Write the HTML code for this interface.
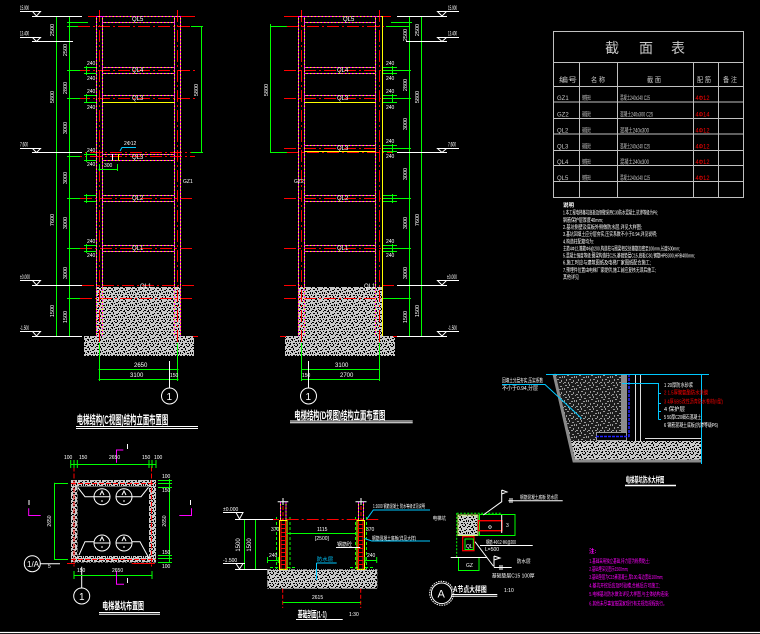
<!DOCTYPE html>
<html><head><meta charset="utf-8"><style>
html,body{margin:0;padding:0;background:#000;}
svg{display:block}
text{font-family:"Liberation Sans","Noto Sans CJK SC",sans-serif;}
</style></head><body>
<svg width="760" height="634" viewBox="0 0 760 634" xmlns="http://www.w3.org/2000/svg">
<defs>
<pattern id="g1" width="12" height="12" patternUnits="userSpaceOnUse">
<rect width="12" height="12" fill="#c8c8c8"/>
<g fill="#000">
<rect x="1" y="1" width="2" height="1"/><rect x="5" y="0" width="1" height="2"/><rect x="8" y="2" width="2" height="1"/><rect x="0" y="4" width="1" height="2"/><rect x="3" y="3" width="2" height="1"/><rect x="4" y="4" width="1" height="1"/><rect x="7" y="5" width="2" height="1"/><rect x="10" y="4" width="1" height="2"/><rect x="2" y="7" width="1" height="2"/><rect x="5" y="7" width="2" height="1"/><rect x="9" y="8" width="1" height="2"/><rect x="0" y="10" width="2" height="1"/><rect x="4" y="10" width="1" height="2"/><rect x="7" y="10" width="2" height="1"/><rect x="11" y="11" width="1" height="1"/><rect x="6" y="3" width="1" height="1"/><rect x="11" y="7" width="1" height="1"/><rect x="3" y="11" width="1" height="1"/><rect x="2" y="5" width="1" height="1"/><rect x="8" y="7" width="1" height="1"/><rect x="6" y="9" width="1" height="1"/><rect x="10" y="1" width="1" height="1"/><rect x="1" y="8" width="1" height="1"/>
</g></pattern>
<pattern id="g2" width="12" height="12" patternUnits="userSpaceOnUse">
<rect width="12" height="12" fill="#1c1c1c"/>
<g fill="#9a9a9a">
<rect x="1" y="1" width="2" height="1"/><rect x="5" y="0" width="1" height="2"/><rect x="8" y="2" width="2" height="1"/><rect x="0" y="4" width="1" height="2"/><rect x="3" y="3" width="2" height="1"/><rect x="7" y="5" width="2" height="1"/><rect x="10" y="4" width="1" height="2"/><rect x="2" y="7" width="1" height="2"/><rect x="5" y="7" width="2" height="1"/><rect x="9" y="8" width="1" height="2"/><rect x="0" y="10" width="2" height="1"/><rect x="4" y="10" width="1" height="2"/><rect x="7" y="10" width="2" height="1"/><rect x="11" y="11" width="1" height="1"/>
</g></pattern>
<path id="m1" fill="none" d="M96.5 16V336M102.5 16V336M174.5 16V336M180.5 16V336M96.5 16.5H180.5M102.5 22.5H174.5M102.5 67.5H174.5M102.5 73.5H174.5M102.5 95.5H174.5M102.5 102.5H174.5M102.5 154.5H174.5M102.5 160.5H174.5M102.5 195.5H174.5M102.5 201.5H174.5M102.5 245.5H174.5M102.5 251.5H174.5"/>
<path id="m2" fill="none" d="M298.5 16V336M304.5 16V336M375.5 16V336M382.5 16V336M298.5 16.5H382.5M304.5 22.5H375.5M304.5 67.5H375.5M304.5 73.5H375.5M304.5 95.5H375.5M304.5 102.5H375.5M304.5 145.5H375.5M304.5 151.5H375.5M304.5 195.5H375.5M304.5 201.5H375.5M304.5 245.5H375.5M304.5 251.5H375.5"/>
</defs>
<rect width="760" height="634" fill="#000"/>

<!-- ===== Elevation C ===== -->
<rect x="96" y="287" width="84" height="49" fill="url(#g1)"/>
<rect x="84" y="336" width="110" height="20" fill="url(#g1)"/>
<g stroke="#f00" fill="none" stroke-dasharray="12 3 2 3">
<path d="M99.5 10V342M177.5 10V342M78 26.5H195M78 70.5H195M78 98.5H195M70 152.5H195M70 156.5H195M80 198.5H195M80 248.5H195M82 285.5H195M80 298.5H193"/>
</g>
<path stroke="#f00" d="M88 16.5H96M180 16.5H195M193 336.5H198M99.5 11V16M177.5 11V16"/>
<use href="#m1" stroke="#ff0"/>
<use href="#m1" stroke="#f0f" stroke-dasharray="2 1.5"/>
<path stroke="#ff0" d="M102.5 102.5H174.5"/>
<g stroke="#0f0" fill="none">
<path d="M56.5 16V336M69.5 16V336M67 22.5H88M67 26.5H78M67 70.5H80M67 98.5H80M67 156.5H80M67 198.5H80M67 248.5H80M67 298.5H80M201.5 26V152.5M191 26.5H203M191 152.5H203"/>
<path d="M86.5 66V75M86.5 94V103M86.5 152V162M86.5 194V203M86.5 244V253M84 67.5H96M84 73.5H96M84 95.5H96M84 102.5H96M84 154.5H96M84 160.5H96M84 195.5H96M84 201.5H96M84 245.5H96M84 251.5H96"/>
<path d="M98.5 369.5H178.5M98.5 379.5H178.5M99.5 343V381M177.5 343V381M98.5 169.5H117.5M99.5 164V171M117.5 164V171"/>
</g>
<g stroke="#fff" fill="none">
<path d="M32 16.5H82M20 11.5H41M32 41.5H73M20 37.5H41M32 152.5H82M20 148.5H41M32 285.5H82M20 280.5H41M32 336.5H82M20 331.5H41"/>
<path d="M32.5 11.5H40.5L36.5 16ZM32.5 37.5H40.5L36.5 41.5ZM32.5 148.5H40.5L36.5 152.5ZM32.5 280.5H40.5L36.5 285ZM32.5 331.5H40.5L36.5 336Z"/>
<path d="M169.5 361V388M112.5 154V160"/>
<circle cx="169.5" cy="396" r="8"/>
</g>
<path stroke="#ff0" d="M118.5 154V160"/>
<path stroke="#00c8ff" fill="none" d="M120 151L122 147.5H136"/>
<g fill="#fff" font-size="6">
<text x="20" y="10" textLength="9" lengthAdjust="spacingAndGlyphs">15.900</text><text x="20" y="35.5" textLength="9" lengthAdjust="spacingAndGlyphs">13.400</text><text x="20" y="146.5" textLength="8" lengthAdjust="spacingAndGlyphs">7.600</text><text x="20" y="279" textLength="10" lengthAdjust="spacingAndGlyphs">±0.000</text><text x="20" y="330" textLength="9" lengthAdjust="spacingAndGlyphs">-1.500</text>
<text x="132" y="21">QL5</text><text x="132" y="72">QL4</text><text x="132" y="100">QL3</text><text x="132" y="159">QL3</text><text x="132" y="200">QL2</text><text x="132" y="250">QL1</text><text x="140" y="288">QL1</text>
<text x="124" y="145" font-size="5">2Φ12</text><text x="104" y="167" font-size="5">300</text>
<text x="183" y="183" font-size="5">GZ1</text>
<text x="134" y="367">2650</text><text x="130" y="377">3100</text><text x="170" y="377" font-size="5">150</text>
<text x="166.5" y="400" font-size="10">1</text>
<text transform="translate(67,50) rotate(-90)" text-anchor="middle" font-size="5.5">2500</text>
<text transform="translate(67,88) rotate(-90)" text-anchor="middle" font-size="5.5">2800</text>
<text transform="translate(67,128) rotate(-90)" text-anchor="middle" font-size="5.5">3000</text>
<text transform="translate(67,178) rotate(-90)" text-anchor="middle" font-size="5.5">3000</text>
<text transform="translate(67,223) rotate(-90)" text-anchor="middle" font-size="5.5">3000</text>
<text transform="translate(67,273) rotate(-90)" text-anchor="middle" font-size="5.5">3000</text>
<text transform="translate(67,317) rotate(-90)" text-anchor="middle" font-size="5.5">1500</text>
<text transform="translate(54,30) rotate(-90)" text-anchor="middle" font-size="5.5">2500</text>
<text transform="translate(54,97) rotate(-90)" text-anchor="middle" font-size="5.5">5800</text>
<text transform="translate(54,220) rotate(-90)" text-anchor="middle" font-size="5.5">7600</text>
<text transform="translate(54,311) rotate(-90)" text-anchor="middle" font-size="5.5">1500</text>
<text transform="translate(198,90) rotate(-90)" text-anchor="middle" font-size="5.5">5800</text>
<text x="87" y="65" font-size="5">240</text><text x="87" y="80" font-size="5">240</text><text x="87" y="93" font-size="5">240</text><text x="87" y="109" font-size="5">240</text><text x="87" y="152" font-size="5">240</text><text x="87" y="166" font-size="5">240</text><text x="87" y="243" font-size="5">240</text><text x="87" y="257" font-size="5">240</text>
<text x="76.7" y="424" font-size="12" font-weight="bold" textLength="91.6" lengthAdjust="spacingAndGlyphs">电梯结构(C视图)结构立面布置图</text>
</g>
<path stroke="#fff" d="M76 426.5H198M76 428.5H198"/>

<!-- ===== Elevation D ===== -->
<rect x="298.5" y="287" width="84" height="49" fill="url(#g1)"/>
<rect x="285" y="336" width="110" height="20" fill="url(#g1)"/>
<g stroke="#f00" fill="none" stroke-dasharray="12 3 2 3">
<path d="M301.5 10V342M379.5 10V342M287 26.5H400M284 70.5H400M284 98.5H400M284 148.5H398M287 152.5H393M284 198.5H400M284 248.5H398M284 285.5H300M382 285.5H397M284 298.5H398"/>
</g>
<path stroke="#f00" d="M284 16.5H298M383 16.5H391M280 336.5H286M393 336.5H397M301.5 11V16M379.5 11V16"/>
<use href="#m2" stroke="#ff0"/>
<use href="#m2" stroke="#f0f" stroke-dasharray="2 1.5"/>
<path stroke="#ff0" d="M304.5 102.5H375.5M304.5 151.5H375.5M382.5 16V336"/>
<g stroke="#0f0" fill="none">
<path d="M270.5 24V152.5M270 26.5H287M270 152.5H287M409.5 16V336M421.5 16V336M391 22.5H412M386 26.5H410M383 70.5H411M383 98.5H411M383 148.5H411M383 198.5H411M383 248.5H411M383 298.5H411"/>
<path d="M392.5 66V75M392.5 94V103M392.5 144V153M392.5 194V203M392.5 244V253M383 67.5H397M383 73.5H397M383 95.5H397M383 102.5H397M383 145.5H397M383 151.5H397M383 195.5H397M383 201.5H397M383 245.5H397M383 251.5H397"/>
<path d="M301 369.5H380M301 379.5H380M301.5 343V381M379.5 343V381"/>
</g>
<g stroke="#fff" fill="none">
<path d="M397 16.5H447M438 11.5H459M406 41.5H447M437 37.5H459M397 152.5H447M437 148.5H459M397 285.5H447M437 280.5H459M397 336.5H447M437 331.5H459"/>
<path d="M437.5 11.5H446.5L442 16ZM437.5 37.5H446.5L442 41.5ZM437.5 148.5H446.5L442 152.5ZM437.5 280.5H446.5L442 285ZM437.5 331.5H446.5L442 336Z"/>
<path d="M308.5 361V388"/>
<circle cx="308.5" cy="396" r="8"/>
</g>
<g fill="#fff" font-size="6">
<text x="448" y="10" textLength="9" lengthAdjust="spacingAndGlyphs">15.900</text><text x="448" y="35.5" textLength="9" lengthAdjust="spacingAndGlyphs">13.400</text><text x="448" y="146.5" textLength="8" lengthAdjust="spacingAndGlyphs">7.600</text><text x="447" y="279" textLength="10" lengthAdjust="spacingAndGlyphs">±0.000</text><text x="448" y="330" textLength="9" lengthAdjust="spacingAndGlyphs">-1.500</text>
<text x="343" y="21">QL5</text><text x="337" y="72">QL4</text><text x="337" y="100">QL3</text><text x="337" y="150">QL3</text><text x="337" y="200">QL2</text><text x="337" y="250">QL1</text><text x="364" y="288">QL1</text>
<text x="294" y="183" font-size="5">GZ2</text>
<text x="335" y="367">3100</text><text x="340" y="377">2700</text><text x="302" y="377" font-size="5">150</text>
<text x="305.5" y="400" font-size="10">1</text>
<text transform="translate(407,35) rotate(-90)" text-anchor="middle" font-size="5.5">2500</text>
<text transform="translate(407,85) rotate(-90)" text-anchor="middle" font-size="5.5">2800</text>
<text transform="translate(407,124) rotate(-90)" text-anchor="middle" font-size="5.5">3000</text>
<text transform="translate(407,174) rotate(-90)" text-anchor="middle" font-size="5.5">3000</text>
<text transform="translate(407,223) rotate(-90)" text-anchor="middle" font-size="5.5">3000</text>
<text transform="translate(407,273) rotate(-90)" text-anchor="middle" font-size="5.5">3000</text>
<text transform="translate(407,317) rotate(-90)" text-anchor="middle" font-size="5.5">1500</text>
<text transform="translate(419,30) rotate(-90)" text-anchor="middle" font-size="5.5">2500</text>
<text transform="translate(419,97) rotate(-90)" text-anchor="middle" font-size="5.5">5800</text>
<text transform="translate(419,220) rotate(-90)" text-anchor="middle" font-size="5.5">7600</text>
<text transform="translate(419,311) rotate(-90)" text-anchor="middle" font-size="5.5">1500</text>
<text transform="translate(268,90) rotate(-90)" text-anchor="middle" font-size="5.5">5800</text>
<text x="386" y="65" font-size="5">240</text><text x="386" y="80" font-size="5">240</text><text x="386" y="93" font-size="5">240</text><text x="386" y="109" font-size="5">240</text><text x="386" y="143" font-size="5">240</text><text x="386" y="158" font-size="5">240</text><text x="386" y="243" font-size="5">240</text><text x="386" y="257" font-size="5">240</text>
<text x="294.3" y="418.8" font-size="11" font-weight="bold" textLength="91" lengthAdjust="spacingAndGlyphs">电梯结构(D视图)结构立面布置图</text>
</g>
<path stroke="#fff" d="M290 421H412.7M290 422.8H412.7"/>

<!-- ===== Table ===== -->
<g stroke="#c0c0c0" fill="none">
<rect x="553.5" y="31.5" width="190" height="166"/>
<path d="M553.5 62.5H743.5M553.5 86.5H743.5M553.5 102H743.5M553.5 118.5H743.5M553.5 134H743.5M553.5 150.5H743.5M553.5 165.5H743.5M553.5 181.5H743.5M579.5 62.5V197.5M617.5 62.5V197.5M693.5 62.5V197.5M718.5 62.5V197.5"/>
</g>
<g fill="#c8c8c8">
<text x="605" y="53" font-size="14">截</text><text x="639" y="53" font-size="14">面</text><text x="671" y="53" font-size="14">表</text>
<text x="559" y="82" font-size="7" textLength="18" lengthAdjust="spacingAndGlyphs">编号</text>
<text x="591" y="82" font-size="7" textLength="14" lengthAdjust="spacingAndGlyphs">名 称</text>
<text x="647" y="82" font-size="7" textLength="14" lengthAdjust="spacingAndGlyphs">截 面</text>
<text x="697" y="82" font-size="7" textLength="14" lengthAdjust="spacingAndGlyphs">配 筋</text>
<text x="723" y="82" font-size="7" textLength="14" lengthAdjust="spacingAndGlyphs">备 注</text>
</g>
<g fill="#c8c8c8" font-size="6">
<text x="557" y="100">GZ1</text><text x="557" y="116.5">GZ2</text><text x="557" y="132.5">QL2</text><text x="557" y="148.5">QL3</text><text x="557" y="164">QL4</text><text x="557" y="180">QL5</text>
<text x="582" y="100" textLength="9" lengthAdjust="spacingAndGlyphs">钢筋砼</text><text x="582" y="116.5" textLength="9" lengthAdjust="spacingAndGlyphs">钢筋砼</text><text x="582" y="132.5" textLength="9" lengthAdjust="spacingAndGlyphs">钢筋砼</text><text x="582" y="148.5" textLength="9" lengthAdjust="spacingAndGlyphs">钢筋砼</text><text x="582" y="164" textLength="9" lengthAdjust="spacingAndGlyphs">钢筋砼</text><text x="582" y="180" textLength="9" lengthAdjust="spacingAndGlyphs">钢筋砼</text>
<text x="620" y="100" textLength="30" lengthAdjust="spacingAndGlyphs">混凝土240x240 C25</text>
<text x="620" y="116.5" textLength="33" lengthAdjust="spacingAndGlyphs">混凝土240x300 C25</text>
<text x="620" y="132.5" textLength="29" lengthAdjust="spacingAndGlyphs">混凝土240x300</text>
<text x="620" y="148.5" textLength="30" lengthAdjust="spacingAndGlyphs">混凝土240x240 C25</text>
<text x="620" y="164" textLength="29" lengthAdjust="spacingAndGlyphs">混凝土240x300</text>
<text x="620" y="180" textLength="30" lengthAdjust="spacingAndGlyphs">混凝土240x240 C25</text>
</g>
<g fill="#f00" font-size="6">
<text x="695.5" y="100" textLength="14" lengthAdjust="spacingAndGlyphs">4Φ12</text><text x="695.5" y="116.5" textLength="14" lengthAdjust="spacingAndGlyphs">4Φ14</text><text x="695.5" y="132.5" textLength="14" lengthAdjust="spacingAndGlyphs">4Φ12</text><text x="695.5" y="148.5" textLength="14" lengthAdjust="spacingAndGlyphs">4Φ12</text><text x="695.5" y="164" textLength="14" lengthAdjust="spacingAndGlyphs">4Φ12</text><text x="695.5" y="180" textLength="14" lengthAdjust="spacingAndGlyphs">4Φ12</text>
</g>

<!-- notes -->
<g fill="#fff" font-size="5.5">
<text x="563" y="207" font-weight="bold">说明</text>
<text x="563" y="214.5" textLength="95" lengthAdjust="spacingAndGlyphs">1.本工程电梯基坑底板及侧壁采用C30防水混凝土,抗渗等级为P6;</text>
<text x="563" y="222" textLength="40" lengthAdjust="spacingAndGlyphs">钢筋保护层厚度40mm;</text>
<text x="563" y="229" textLength="79" lengthAdjust="spacingAndGlyphs">2.基坑侧壁及底板外侧做防水层,详见大样图;</text>
<text x="563" y="236" textLength="94" lengthAdjust="spacingAndGlyphs">3.基坑回填土应分层夯实,压实系数不小于0.94,详见说明;</text>
<text x="563" y="243.5" textLength="31" lengthAdjust="spacingAndGlyphs">4.构造柱配筋均为:</text>
<text x="563" y="250.5" textLength="117" lengthAdjust="spacingAndGlyphs">主筋4Φ12,箍筋Φ6@200,构造柱与圈梁相交处箍筋加密至100mm,长度500mm;</text>
<text x="563" y="257.5" textLength="132" lengthAdjust="spacingAndGlyphs">5.混凝土强度等级:圈梁构造柱C25,基础垫层C15,底板C30,钢筋HPB300,HRB400mm;</text>
<text x="563" y="264.5" textLength="88" lengthAdjust="spacingAndGlyphs">6.施工时应与建筑图纸及电梯厂家图纸配合施工;</text>
<text x="563" y="272" textLength="93" lengthAdjust="spacingAndGlyphs">7.预埋件位置由电梯厂家提供,施工前应复核无误后施工;</text>
<text x="563" y="279" textLength="16" lengthAdjust="spacingAndGlyphs">其他详见</text>
</g>

<!-- ===== Waterproof detail ===== -->
<polygon points="553,374 621,374 621,432 596,432 596,441 569,441" fill="url(#g2)"/>
<polygon points="570,441 702,441 702,461 574,461" fill="url(#g1)"/>
<path d="M554 374L574 461H702" stroke="#8a8a8a" stroke-width="3" fill="none"/>
<rect x="621" y="374" width="6" height="58" fill="#8c8c8c"/>
<rect x="596.5" y="432.5" width="30" height="8" fill="none" stroke="#999"/>
<path d="M629 374V437M596 436.5H629" stroke="#22f" stroke-width="1.5" stroke-dasharray="3 1" fill="none"/>
<path d="M635.5 374V441M640.5 374V441M645 438.5H702" stroke="#ddd" fill="none"/>
<path d="M546 374.5H709M701.5 374V464M622 383.5H658.5V419.5M658.5 393.5H661M658.5 403.5H661M658.5 411.5H661M658.5 419.5H661M502 384.5H545L581.7 418.5" stroke="#00c8ff" fill="none"/>
<g font-size="5.5">
<text x="664" y="387" fill="#fff" textLength="29" lengthAdjust="spacingAndGlyphs">1 20厚防水砂浆</text>
<text x="664" y="394.5" fill="#f00" textLength="44" lengthAdjust="spacingAndGlyphs">2 1.5厚聚氨酯防水涂膜</text>
<text x="664" y="403.5" fill="#f00" textLength="59" lengthAdjust="spacingAndGlyphs">3 4厚SBS改性沥青防水卷材(II型)</text>
<text x="664" y="411" fill="#fff" textLength="21" lengthAdjust="spacingAndGlyphs">4 保护层</text>
<text x="664" y="419" fill="#fff" textLength="37" lengthAdjust="spacingAndGlyphs">5 50厚C20细石混凝土</text>
<text x="664" y="427" fill="#fff" textLength="54" lengthAdjust="spacingAndGlyphs">6 钢筋混凝土底板(抗渗等级P6)</text>
<text x="502" y="382.5" fill="#fff" textLength="41" lengthAdjust="spacingAndGlyphs">回填土分层夯实,压实系数</text>
<text x="502" y="390" fill="#fff" textLength="36" lengthAdjust="spacingAndGlyphs">不小于0.94,分层</text>
<text x="625.7" y="482.5" fill="#fff" font-size="8" font-weight="bold" textLength="38.6" lengthAdjust="spacingAndGlyphs">电梯基坑防水大样图</text>
</g>
<path d="M625 485.5H676" stroke="#fff" stroke-width="1.6"/>

<!-- ===== Plan ===== -->
<rect x="71" y="480" width="85" height="82.5" fill="url(#g1)"/>
<rect x="77.5" y="486.5" width="71.5" height="69.5" fill="#000"/>
<path d="M74 466.5V566.5M151.5 466.5V566.5M71 483.5H156M71 559.5H156" stroke="#f00" stroke-dasharray="5 2" fill="none"/>
<path d="M67 563.5H75M131.7 563.5H155" stroke="#f00"/>
<g stroke="#fff" fill="none">
<circle cx="102" cy="496.7" r="8"/><circle cx="124" cy="496.7" r="8"/><circle cx="102" cy="543" r="8"/><circle cx="124" cy="543" r="8"/>
<path d="M94 496.7H110M116 496.7H132M94 543H110M116 543H132"/>
<path d="M100 495L102 491L104 495M122 495L124 491L126 495M100 541L102 537L104 541M122 541L124 537L126 541M101 501H103M123 501H125M101 547H103M123 547H125"/>
<path d="M77.7 487.3L85 496.7H94M132 496.7H141L148.5 487.3M79 555L85 541.7H94M131.7 541.7H140L149 558.3"/>
<circle cx="32.3" cy="563.7" r="8"/><path d="M40.3 563.7H60M81.7 566.7V588M127.5 444V449M127.5 578V583M29 500V505M190.5 500V505"/>
<circle cx="81.7" cy="596" r="8"/>
</g>
<g stroke="#0f0" fill="none">
<path d="M70.7 464.5H156M70.7 460V468M74 460V468M77.3 460V468M149 460V468M152 460V468M156 460V468"/>
<path d="M54.5 482.7V560M54 483.5H68M54 559.5H68M169.5 479V563M158 480.5H172M158 483.5H172M158 487.5H172M158 555.5H172M158 558.5H172M158 562.5H172"/>
<path d="M74 575.5H152M74 571V579M152 571V579"/>
</g>
<g stroke="#f0f" fill="none">
<path d="M116.5 462.7V450H123.3M116.5 571V584.3H124M28.7 508.3V515.5H40.7M191.5 508.3V515.5H179.3"/>
</g>
<g fill="#fff" font-size="5">
<text x="64" y="459">100</text><text x="79" y="459">150</text><text x="109" y="459">2650</text><text x="142" y="459">150</text><text x="154" y="459">100</text>
<text x="77" y="572">150</text><text x="112" y="572">2650</text><text x="48" y="568">5</text>
<text x="162" y="478">100</text><text x="162" y="492">150</text><text x="162" y="554">150</text><text x="162" y="568">100</text>
<text transform="translate(51,521) rotate(-90)" text-anchor="middle">2650</text>
<text transform="translate(166,521) rotate(-90)" text-anchor="middle">2650</text>
<text x="27" y="567" font-size="8">1/A</text>
<text x="79" y="600" font-size="10">1</text>
<text x="102.3" y="609.5" font-size="10" font-weight="bold" textLength="41.7" lengthAdjust="spacingAndGlyphs">电梯基坑布置图</text>
</g>
<path d="M99 612.5H160M99 614.3H160" stroke="#fff"/>

<!-- ===== Section 1-1 ===== -->
<rect x="267.3" y="569.3" width="110" height="19.4" fill="url(#g1)"/>
<g stroke="#0f0" stroke-dasharray="3 2" fill="none">
<path d="M276.5 517V569M290 517V569M355.5 517V569M366.5 517V569M270 567.5H279M287 567.5H296M350 567.5H358M365 567.5H374"/>
</g>
<path d="M266.7 519.5H378.3" stroke="#f00" stroke-dasharray="12 3 2 3"/>
<g fill="none">
<rect x="279.5" y="520.5" width="7.5" height="48.8" stroke="#ff0"/>
<rect x="357" y="520.5" width="7.5" height="48.8" stroke="#ff0"/>
<path stroke="#f00" d="M281 521V569M285.5 521V569M358.5 521V569M363 521V569M281 524.5H285.5M281 528.5H285.5M281 532.5H285.5M281 536.5H285.5M281 540.5H285.5M281 544.5H285.5M281 548.5H285.5M281 552.5H285.5M281 556.5H285.5M281 560.5H285.5M281 564.5H285.5M358.5 524.5H363M358.5 528.5H363M358.5 532.5H363M358.5 536.5H363M358.5 540.5H363M358.5 544.5H363M358.5 548.5H363M358.5 552.5H363M358.5 556.5H363M358.5 560.5H363M358.5 564.5H363"/>
<path stroke="#ff0" d="M280.5 502V520M286 502V520M358.5 502V520M363.5 502V520"/>
<path stroke="#f0f" stroke-dasharray="2 1.5" d="M280.5 502V520M286 502V520M358.5 502V520M363.5 502V520"/>
<path stroke="#f00" stroke-dasharray="4 2" d="M283 500V520M361 500V520M282.7 588.7V608M360.7 588.7V608"/>
<path stroke="#fff" d="M277.7 501.7H288.3M283 498V505M355.5 501.7H366.5M361 498V505"/>
<path stroke="#0f0" d="M286.7 533.5H357M282.7 602.5H360.7M244.5 519.5V569.3M255.5 520V569.3M267.3 560.5H278.3M267.5 557V563M278.3 557V563M365 560.5H376.7M365 557V563M376.7 557V563"/>
<path stroke="#fff" d="M235 519.5H273M223 512.5H243M235 569.5H267.3M223 563.5H245M236 512.5H243L239.5 519ZM236 563.5H243L239.5 569Z"/>
<path stroke="#fff" d="M336 547.5H360.3"/>
<path stroke="#00c8ff" d="M366.7 519.3L373.3 510H428.3M364 538.3L371.7 541H429.3M316.5 563V580M316.5 563H336.7M420 510H430M420 541H430"/>
</g>
<g fill="#fff" font-size="5">
<text x="223" y="511">±0.000</text><text x="223" y="562">-1.500</text>
<text transform="translate(240,545) rotate(-90)" text-anchor="middle" font-size="6">1500</text>
<text transform="translate(251,545) rotate(-90)" text-anchor="middle" font-size="6">1500</text>
<text x="317" y="531">1115</text><text x="315" y="540">[2500]</text>
<text x="269" y="557">240</text><text x="367" y="557">240</text>
<text x="271" y="531">370</text><text x="366" y="531">370</text>
<text x="337" y="546" textLength="15" lengthAdjust="spacingAndGlyphs">钢筋砼</text>
<text x="316.7" y="561" fill="#00c8ff" textLength="16.6" lengthAdjust="spacingAndGlyphs">防水层</text>
<text x="373" y="508" textLength="52" lengthAdjust="spacingAndGlyphs">1:1600 钢筋混凝土 防水等级详见说明</text>
<text x="372" y="540" textLength="44" lengthAdjust="spacingAndGlyphs">钢筋混凝土底板(详见大样)</text>
<text x="312" y="599">2615</text>
<text x="297.7" y="617.5" font-size="9" font-weight="bold" textLength="29" lengthAdjust="spacingAndGlyphs">基础剖面(1-1)</text>
<text x="349" y="616">1:30</text>
</g>
<path d="M296 619.5H342.7" stroke="#fff"/>

<!-- ===== Detail A ===== -->
<rect x="458.3" y="515" width="19" height="20" fill="url(#g1)"/>
<g fill="none">
<rect x="458" y="515" width="20" height="20.5" stroke="#ccff66"/>
<path stroke="#0f0" stroke-dasharray="2 1.5" d="M456.7 513.3H501.3M456.7 513.3V557.3"/>
<rect x="479.5" y="514.5" width="35.5" height="21" stroke="#0f0"/>
<rect x="478.5" y="520.7" width="23.5" height="10" stroke="#f00" stroke-width="1.4"/>
<rect x="462.7" y="536.7" width="11.3" height="14" stroke="#f00" stroke-width="1.2"/>
<rect x="465" y="539" width="8.3" height="10.5" stroke="#0f0"/>
<rect x="458.5" y="557.5" width="20.5" height="13" stroke="#0f0"/>
<path stroke="#fff" d="M450.7 557.5H486.7M480 545.5H532.7M483.3 515L501.7 501.7V490M501.7 490L507 492L501.7 494M508.3 500.7H562.7M510 498V503M512 498V503M475 541.7L493.3 566M494 556V567.3M494 556L500 558L494 560M494 567.5H511.7M500 565V570M502 565V570M501.7 515V533"/>
<circle cx="441.7" cy="593.3" r="10.3" stroke="#fff"/>
<circle cx="441.7" cy="593.3" r="12" stroke="#fff" stroke-dasharray="1.5 1"/>
</g>
<g fill="#fff" font-size="5">
<text x="520" y="499" textLength="38" lengthAdjust="spacingAndGlyphs">钢筋混凝土底板 防水层</text>
<text x="516.7" y="563" textLength="14" lengthAdjust="spacingAndGlyphs">防水层</text>
<text x="491.7" y="577.5" textLength="43" lengthAdjust="spacingAndGlyphs">基础垫层C15 100厚</text>
<text x="485" y="551">L=500</text>
<text x="486" y="544" textLength="30" lengthAdjust="spacingAndGlyphs">钢筋 4Φ12 Φ6@200</text>
<text x="466" y="548">QL</text><text x="488" y="529">Φ</text><text x="506" y="527">3</text><text x="466" y="567">GZ</text>
<text x="432.7" y="520" textLength="13.3" lengthAdjust="spacingAndGlyphs">电梯坑</text>
<text x="437.5" y="597.5" font-size="11">A</text>
<text x="453.3" y="592" font-size="8" font-weight="bold" textLength="33.4" lengthAdjust="spacingAndGlyphs">A节点大样图</text>
<text x="504" y="592">1:10</text>
</g>
<path d="M452 594.5H497.3M452 596.2H497.3" stroke="#fff"/>

<!-- magenta notes -->
<g fill="#f0f" font-size="5.5">
<text x="589" y="553" font-weight="bold">注:</text>
<text x="589.3" y="563" textLength="60.7" lengthAdjust="spacingAndGlyphs">1.基础采用独立基础,持力层为粉质黏土;</text>
<text x="589.3" y="571" textLength="39" lengthAdjust="spacingAndGlyphs">2.基础埋深见图示1500mm;</text>
<text x="589.3" y="579" textLength="74" lengthAdjust="spacingAndGlyphs">3.基础垫层为C15素混凝土,厚100,每边宽出100mm;</text>
<text x="589.3" y="587.5" textLength="70.7" lengthAdjust="spacingAndGlyphs">4.基坑开挖后应及时验槽,合格后方可施工;</text>
<text x="589.3" y="596" textLength="79.7" lengthAdjust="spacingAndGlyphs">5.电梯基坑防水做法详见大样图,与主体结构连接;</text>
<text x="589.3" y="605.5" textLength="77.4" lengthAdjust="spacingAndGlyphs">6.其他未尽事宜按国家现行有关规范规程执行。</text>
</g>

<path d="M0 632.5H760" stroke="#fff" stroke-width="1.3"/>
</svg>
</body></html>
